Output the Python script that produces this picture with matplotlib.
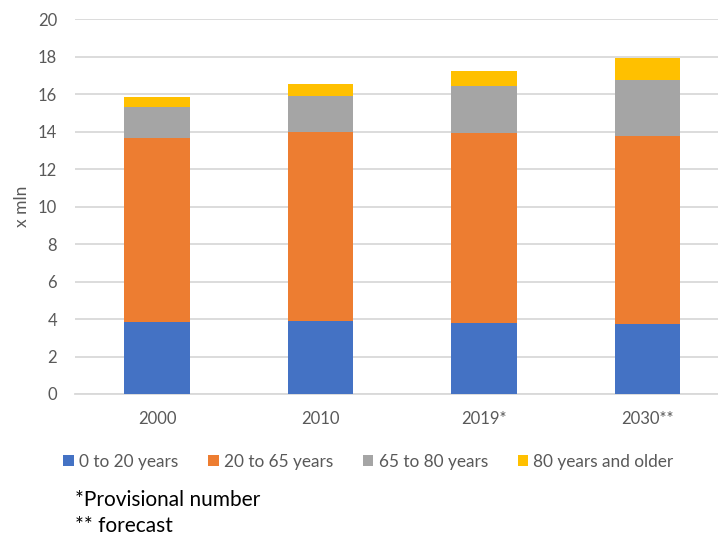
import matplotlib
matplotlib.use("Agg")
import matplotlib.pyplot as plt
from matplotlib.patches import Patch
import numpy as np

plt.rcParams['font.family'] = ['Lato', 'DejaVu Sans']

categories = ["2000", "2010", "2019*", "2030**"]
series_names = ["0 to 20 years", "20 to 65 years", "65 to 80 years", "80 years and older"]
age_0_20 = [3.86, 3.91, 3.80, 3.75]
age_20_65 = [9.83, 10.09, 10.15, 10.03]
age_65_80 = [1.63, 1.90, 2.49, 2.97]
age_80_plus = [0.52, 0.65, 0.81, 1.21]
colors = ["#4472C4", "#ED7D31", "#A5A5A5", "#FFC000"]
yticks = [0, 2, 4, 6, 8, 10, 12, 14, 16, 18, 20]

W, H = 718, 537
fig = plt.figure(figsize=(W / 100, H / 100), dpi=100)
ax = fig.add_axes([75.25 / W, (H - 394) / H, (W - 75.25) / W, 374.7 / H])

x = np.arange(len(categories))
bottom = np.zeros(len(categories))
handles = []
for name, vals, c in zip(series_names, [age_0_20, age_20_65, age_65_80, age_80_plus], colors):
    ax.bar(x, vals, width=0.4, bottom=bottom, color=c, zorder=3)
    bottom += np.array(vals)
    handles.append(Patch(facecolor=c, label=name))

ax.set_xlim(-0.5, 3.431)
ax.set_ylim(0, 20)
ax.set_yticks(yticks)
ax.set_xticks(x)
ax.set_xticklabels(categories)
ax.yaxis.grid(True, color="#D9D9D9", linewidth=1.3, zorder=0)
for s in ["top", "right", "left"]:
    ax.spines[s].set_visible(False)
ax.spines["bottom"].set_color("#D9D9D9")
ax.spines["bottom"].set_linewidth(1.3)
ax.tick_params(axis="both", length=0, labelsize=12, colors="#595959")
ax.tick_params(axis="y", pad=13)
ax.tick_params(axis="x", pad=12)
ax.set_ylabel("x mln", fontsize=12.5, color="#595959", labelpad=6)

fig.legend(handles=handles, loc="center", bbox_to_anchor=(368.5 / W, (H - 462) / H),
           ncol=4, frameon=False, fontsize=12.4, handlelength=0.6, handleheight=0.6,
           handletextpad=0.3, columnspacing=1.75, labelcolor="#595959")

fig.text(75 / W, (H - 500) / H, "*Provisional number", fontsize=15, color="black",
         va="center", ha="left")
fig.text(75 / W, (H - 526) / H, "** forecast", fontsize=15, color="black",
         va="center", ha="left")

fig.savefig("out.png", dpi=100)
